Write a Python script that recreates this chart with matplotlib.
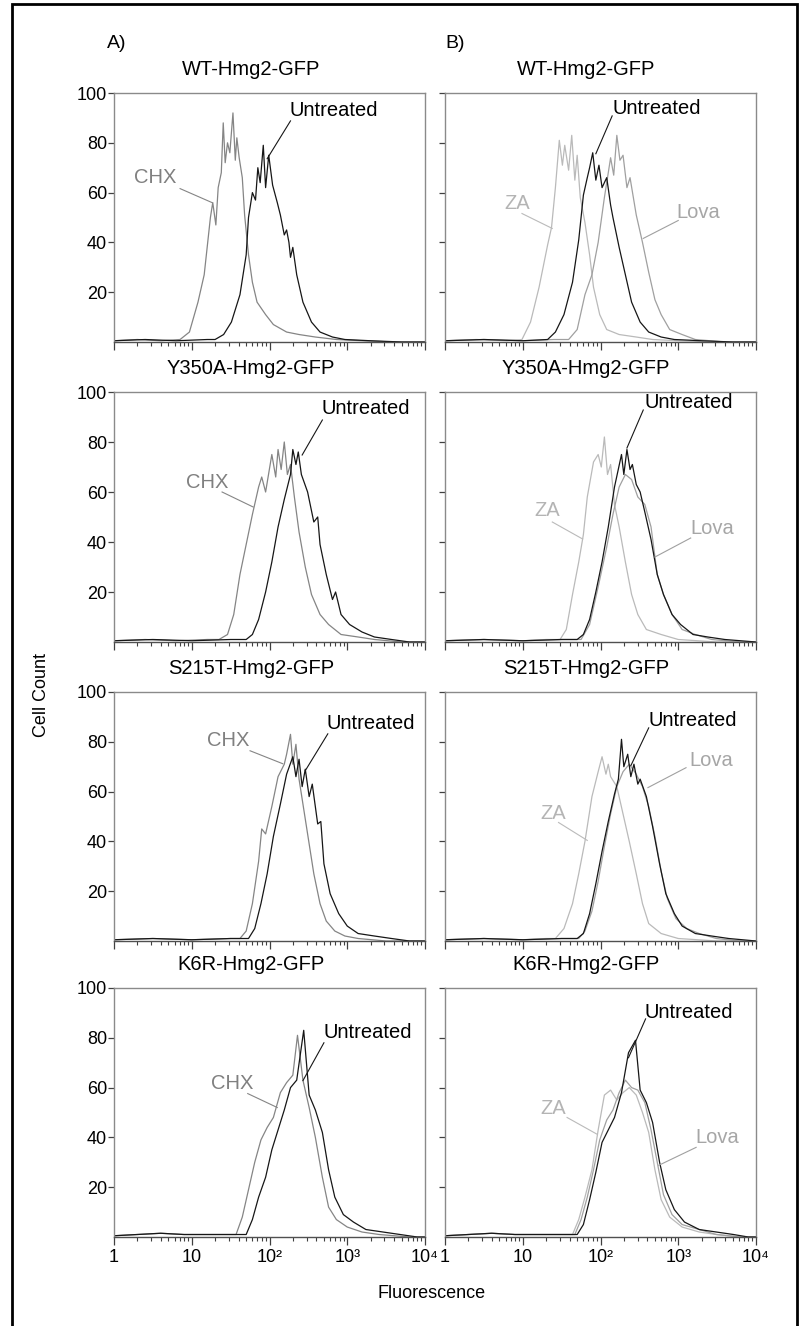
import matplotlib.pyplot as plt
import numpy as np
from matplotlib.patches import Rectangle
from matplotlib.ticker import FixedLocator, FixedFormatter, LogLocator, NullFormatter

plt.rcParams['font.family'] = ['Liberation Sans', 'DejaVu Sans']

# ---- data (x = log10 fluorescence, y = cell count) ----
titles = ["WT-Hmg2-GFP", "Y350A-Hmg2-GFP", "S215T-Hmg2-GFP", "K6R-Hmg2-GFP"]

# WT
wt_chx_log = [0.0, 0.3, 0.6, 0.85, 0.97, 1.08, 1.16, 1.24, 1.27, 1.31, 1.34, 1.38, 1.405, 1.43, 1.46, 1.49,
              1.53, 1.56, 1.58, 1.61, 1.65, 1.68, 1.73, 1.78, 1.84, 1.95, 2.05, 2.22, 2.38, 2.59, 2.86,
              3.2, 3.6, 4.0]
wt_chx = [0.5, 1, 0.5, 1, 4, 16, 27, 50, 56, 47, 62, 68, 88, 72, 80, 76, 92, 73, 82, 74, 66, 51, 35, 24, 16,
          11, 7, 4, 3, 2, 1, 0.5, 0, 0]
wt_untr_a_log = [0.0, 0.4, 0.8, 1.2, 1.30, 1.41, 1.51, 1.62, 1.70, 1.73, 1.78, 1.82, 1.85, 1.88, 1.92, 1.95,
                 1.99, 2.04, 2.10, 2.14, 2.19, 2.22, 2.25, 2.27, 2.30, 2.35, 2.43, 2.54, 2.65, 2.81, 2.97,
                 3.3, 3.7, 4.0]
wt_untr_a = [0.5, 1, 0.5, 1, 1, 3, 8, 19, 35, 50, 60, 57, 70, 64, 79, 62, 75, 63, 56, 51, 43, 45, 40, 34, 38,
             27, 16, 8, 4, 2, 1, 0.5, 0, 0]
wt_za_log = [0.0, 0.4, 0.8, 0.99, 1.10, 1.21, 1.32, 1.37, 1.42, 1.47, 1.51, 1.54, 1.59, 1.63, 1.67, 1.70,
             1.74, 1.80, 1.86, 1.91, 1.99, 2.08, 2.24, 2.46, 2.67, 3.0, 3.5, 4.0]
wt_za = [0.5, 1, 0.5, 1, 8, 22, 39, 46, 62, 81, 71, 79, 69, 83, 65, 75, 58, 48, 35, 22, 11, 5, 3, 2, 1, 0.5,
         0, 0]
wt_untr_b_log = [0.0, 0.5, 1.0, 1.32, 1.42, 1.53, 1.64, 1.72, 1.78, 1.83, 1.86, 1.90, 1.94, 1.98, 2.02, 2.08,
                 2.13, 2.16, 2.24, 2.32, 2.40, 2.51, 2.62, 2.78, 2.95, 3.3, 3.7, 4.0]
wt_untr_b = [0.5, 1, 0.5, 1, 4, 11, 24, 41, 59, 66, 70, 76, 65, 71, 62, 66, 55, 50, 38, 27, 16, 8, 4, 2, 1,
             0.5, 0, 0]
wt_lova_log = [0.0, 0.5, 1.0, 1.4, 1.59, 1.70, 1.80, 1.89, 1.97, 2.05, 2.13, 2.17, 2.21, 2.25, 2.29, 2.34,
               2.38, 2.46, 2.54, 2.62, 2.70, 2.78, 2.89, 3.05, 3.22, 3.6, 4.0]
wt_lova = [0.5, 1, 0.5, 1, 1, 5, 19, 27, 40, 58, 74, 67, 83, 73, 75, 62, 66, 51, 40, 28, 17, 11, 5, 3, 1, 0, 0]

# Y350A
y350_chx_log = [0.0, 0.4, 0.8, 1.2, 1.35, 1.46, 1.54, 1.62, 1.70, 1.78, 1.86, 1.90, 1.95, 2.03, 2.08, 2.11,
                2.15, 2.19, 2.23, 2.27, 2.32, 2.38, 2.46, 2.54, 2.65, 2.76, 2.92, 3.14, 3.35, 3.7, 4.0]
y350_chx = [0.5, 1, 0.5, 1, 1, 3, 11, 27, 39, 51, 62, 66, 60, 75, 66, 77, 69, 80, 67, 71, 58, 44, 30, 19, 11,
            7, 3, 2, 1, 0, 0]
y350_untr_a_log = [0.0, 0.5, 1.0, 1.5, 1.70, 1.78, 1.86, 1.95, 2.03, 2.11, 2.19, 2.27, 2.30, 2.34, 2.37, 2.41,
                   2.49, 2.57, 2.62, 2.65, 2.73, 2.81, 2.85, 2.92, 3.03, 3.19, 3.35, 3.57, 3.8, 4.0]
y350_untr_a = [0.5, 1, 0.5, 1, 1, 3, 9, 20, 32, 46, 57, 67, 77, 71, 76, 67, 60, 48, 50, 39, 27, 17, 20, 11, 7,
               4, 2, 1, 0, 0]
y350_za_log = [0.0, 0.5, 1.0, 1.3, 1.48, 1.56, 1.64, 1.72, 1.78, 1.83, 1.91, 1.97, 2.01, 2.05, 2.09, 2.13,
               2.18, 2.24, 2.32, 2.40, 2.48, 2.59, 2.78, 3.0, 3.5, 4.0]
y350_za = [0.5, 1, 0.5, 1, 1, 5, 19, 32, 43, 58, 72, 75, 70, 82, 67, 71, 55, 46, 32, 19, 11, 5, 3, 1, 0, 0]
y350_untr_b_log = [0.0, 0.5, 1.0, 1.5, 1.70, 1.78, 1.86, 1.94, 2.02, 2.10, 2.18, 2.27, 2.30, 2.34, 2.38, 2.41,
                   2.46, 2.51, 2.57, 2.65, 2.73, 2.81, 2.92, 3.03, 3.19, 3.38, 3.6, 4.0]
y350_untr_b = [0.5, 1, 0.5, 1, 1, 3, 9, 20, 32, 46, 62, 75, 67, 77, 69, 71, 63, 60, 52, 41, 27, 19, 11, 7, 3,
               2, 1, 0]
y350_lova_log = [0.0, 0.5, 1.0, 1.5, 1.75, 1.86, 1.97, 2.08, 2.16, 2.24, 2.32, 2.40, 2.48, 2.57, 2.65, 2.73,
                 2.81, 2.92, 3.05, 3.22, 3.43, 3.8, 4.0]
y350_lova = [0.5, 1, 0.5, 1, 1, 7, 22, 38, 51, 62, 67, 65, 58, 55, 46, 27, 19, 11, 5, 3, 1, 0, 0]

# S215T
s215_chx_log = [0.0, 0.5, 1.0, 1.5, 1.62, 1.70, 1.78, 1.86, 1.90, 1.95, 2.03, 2.11, 2.19, 2.22, 2.27, 2.30,
                2.34, 2.38, 2.41, 2.49, 2.57, 2.65, 2.73, 2.84, 2.97, 3.14, 3.5, 4.0]
s215_chx = [0.5, 1, 0.5, 1, 1, 4, 15, 32, 45, 43, 54, 66, 71, 75, 83, 71, 79, 65, 59, 43, 27, 15, 8, 4, 2, 1,
            0, 0]
s215_untr_a_log = [0.0, 0.5, 1.0, 1.5, 1.73, 1.81, 1.89, 1.97, 2.05, 2.14, 2.22, 2.30, 2.34, 2.38, 2.42, 2.46,
                   2.51, 2.55, 2.62, 2.66, 2.70, 2.78, 2.89, 3.0, 3.14, 3.35, 3.57, 3.8, 4.0]
s215_untr_a = [0.5, 1, 0.5, 1, 1, 5, 15, 27, 42, 55, 67, 74, 66, 73, 62, 69, 58, 63, 47, 48, 31, 19, 11, 6, 3,
               2, 1, 0, 0]
s215_za_log = [0.0, 0.5, 1.0, 1.3, 1.42, 1.53, 1.64, 1.72, 1.80, 1.89, 1.97, 2.02, 2.07, 2.10, 2.13, 2.21,
               2.29, 2.37, 2.46, 2.54, 2.62, 2.78, 3.0, 3.5, 4.0]
s215_za = [0.5, 1, 0.5, 1, 1, 5, 15, 27, 40, 58, 68, 74, 67, 71, 66, 62, 51, 40, 27, 15, 7, 3, 1, 0, 0]
s215_untr_b_log = [0.0, 0.5, 1.0, 1.5, 1.70, 1.78, 1.86, 1.94, 2.02, 2.10, 2.18, 2.23, 2.27, 2.30, 2.35, 2.39,
                   2.43, 2.48, 2.51, 2.59, 2.67, 2.76, 2.84, 2.95, 3.05, 3.22, 3.43, 3.65, 4.0]
s215_untr_b = [0.5, 1, 0.5, 1, 1, 3, 11, 23, 36, 48, 59, 65, 81, 70, 75, 66, 71, 63, 65, 58, 46, 31, 19, 11, 6,
               3, 2, 1, 0]
s215_lova_log = [0.0, 0.5, 1.0, 1.5, 1.72, 1.80, 1.89, 1.97, 2.05, 2.13, 2.21, 2.29, 2.37, 2.46, 2.54, 2.62,
                 2.70, 2.78, 2.86, 2.97, 3.11, 3.27, 3.49, 3.8, 4.0]
s215_lova = [0.5, 1, 0.5, 1, 1, 4, 12, 24, 38, 51, 62, 68, 71, 67, 62, 54, 42, 28, 17, 9, 5, 3, 1, 0, 0]

# K6R
k6r_chx_log = [0.0, 0.3, 0.6, 0.9, 1.2, 1.57, 1.65, 1.73, 1.81, 1.89, 1.97, 2.05, 2.14, 2.22, 2.30, 2.36,
               2.43, 2.51, 2.59, 2.68, 2.76, 2.86, 3.0, 3.19, 3.41, 3.8, 4.0]
k6r_chx = [0.5, 1, 1.5, 1, 1, 1, 8, 19, 30, 39, 44, 48, 58, 62, 65, 81, 63, 52, 40, 24, 12, 7, 4, 2, 1, 0, 0]
k6r_untr_a_log = [0.0, 0.3, 0.6, 0.9, 1.3, 1.70, 1.78, 1.86, 1.95, 2.03, 2.11, 2.19, 2.27, 2.35, 2.44, 2.51,
                  2.59, 2.68, 2.76, 2.84, 2.95, 3.08, 3.24, 3.46, 3.68, 3.9, 4.0]
k6r_untr_a = [0.5, 1, 1.5, 1, 1, 1, 7, 16, 24, 35, 43, 51, 60, 63, 83, 57, 51, 42, 27, 16, 9, 6, 3, 2, 1, 0, 0]
k6r_za_log = [0.0, 0.3, 0.6, 0.9, 1.3, 1.64, 1.72, 1.80, 1.89, 1.97, 2.05, 2.13, 2.21, 2.29, 2.37, 2.46,
              2.54, 2.62, 2.70, 2.78, 2.89, 3.05, 3.27, 3.49, 3.8, 4.0]
k6r_za = [0.5, 1, 1.5, 1, 1, 1, 7, 16, 27, 43, 57, 59, 55, 58, 60, 57, 50, 42, 27, 15, 8, 4, 2, 1, 0, 0]
k6r_untr_b_log = [0.0, 0.3, 0.6, 0.9, 1.3, 1.70, 1.78, 1.86, 1.94, 2.02, 2.10, 2.18, 2.27, 2.36, 2.45, 2.51,
                  2.59, 2.67, 2.76, 2.84, 2.95, 3.08, 3.27, 3.49, 3.71, 3.9, 4.0]
k6r_untr_b = [0.5, 1, 1.5, 1, 1, 1, 5, 15, 26, 38, 43, 48, 58, 74, 79, 59, 54, 46, 30, 19, 11, 6, 3, 2, 1, 0, 0]
k6r_lova_log = [0.0, 0.3, 0.6, 0.9, 1.3, 1.67, 1.75, 1.83, 1.91, 1.99, 2.08, 2.16, 2.24, 2.32, 2.40, 2.48,
                2.57, 2.65, 2.73, 2.81, 2.92, 3.05, 3.27, 3.49, 3.8, 4.0]
k6r_lova = [0.5, 1, 1.5, 1, 1, 1, 7, 16, 27, 39, 47, 51, 58, 63, 60, 59, 54, 43, 30, 17, 9, 5, 3, 1, 0, 0]

x_tick_vals = [1, 10, 100, 1000, 10000]
x_tick_labels = ["1", "10", "10\u00b2", "10\u00b3", "10\u2074"]
y_tick_vals = [20, 40, 60, 80, 100]

# ---- styles ----
COL = {"Untreated": "#161616", "CHX": "#858585", "ZA": "#bababa", "Lova": "#a0a0a0"}
TXT = {"Untreated": "#000000", "CHX": "#808080", "ZA": "#b4b4b4", "Lova": "#a6a6a6"}

left_curves = [
    [("CHX", wt_chx_log, wt_chx), ("Untreated", wt_untr_a_log, wt_untr_a)],
    [("CHX", y350_chx_log, y350_chx), ("Untreated", y350_untr_a_log, y350_untr_a)],
    [("CHX", s215_chx_log, s215_chx), ("Untreated", s215_untr_a_log, s215_untr_a)],
    [("CHX", k6r_chx_log, k6r_chx), ("Untreated", k6r_untr_a_log, k6r_untr_a)],
]
right_curves = [
    [("ZA", wt_za_log, wt_za), ("Lova", wt_lova_log, wt_lova), ("Untreated", wt_untr_b_log, wt_untr_b)],
    [("ZA", y350_za_log, y350_za), ("Lova", y350_lova_log, y350_lova), ("Untreated", y350_untr_b_log, y350_untr_b)],
    [("ZA", s215_za_log, s215_za), ("Lova", s215_lova_log, s215_lova), ("Untreated", s215_untr_b_log, s215_untr_b)],
    [("ZA", k6r_za_log, k6r_za), ("Lova", k6r_lova_log, k6r_lova), ("Untreated", k6r_untr_b_log, k6r_untr_b)],
]

# label placement: (label, text pos, leader start, leader end) in (log10 x, count)
left_notes = [
    [("CHX", (0.53, 66), (0.85, 61.6), (1.26, 56)), ("Untreated", (2.83, 93), (2.27, 88.8), (1.97, 73.6))],
    [("CHX", (1.20, 64), (1.39, 60), (1.79, 54)), ("Untreated", (3.24, 93.6), (2.68, 88.8), (2.42, 74.8))],
    [("CHX", (1.47, 80.4), (1.75, 76.4), (2.17, 71.2)), ("Untreated", (3.30, 87.2), (2.75, 83.2), (2.46, 68.4))],
    [("CHX", (1.52, 61.6), (1.72, 57.6), (2.10, 52)), ("Untreated", (3.26, 82), (2.70, 78), (2.43, 62.8))],
]
right_notes = [
    [("ZA", (0.93, 55.6), (0.99, 51.6), (1.38, 45.6)), ("Lova", (3.26, 52), (3.0, 48.8), (2.55, 41.6)),
     ("Untreated", (2.72, 93.6), (2.15, 90.8), (1.94, 75.6))],
    [("ZA", (1.31, 52.8), (1.38, 48), (1.77, 41.2)), ("Lova", (3.44, 45.6), (3.16, 41.6), (2.70, 34)),
     ("Untreated", (3.14, 96), (2.55, 92.8), (2.34, 77.6))],
    [("ZA", (1.39, 51.2), (1.46, 47.6), (1.83, 40.4)), ("Lova", (3.42, 72.4), (3.10, 69.6), (2.61, 61.6)),
     ("Untreated", (3.19, 88.4), (2.62, 85.6), (2.39, 70.4))],
    [("ZA", (1.39, 51.6), (1.57, 48), (1.96, 41.2)), ("Lova", (3.50, 40), (3.23, 36), (2.75, 28.8)),
     ("Untreated", (3.14, 90), (2.58, 87.6), (2.36, 72))],
]

W, H = 799, 1326
fig = plt.figure(figsize=(W / 100, H / 100), dpi=100)

row_px = [(93, 342), (392, 642), (692, 941), (988, 1237)]
col_px = [(114, 425), (445, 756)]


def make_axes(col, row):
    l, r = col_px[col]
    t, b = row_px[row]
    return fig.add_axes([l / W, 1 - b / H, (r - l) / W, (b - t) / H])


def style_axes(ax, show_ylabels, show_xlabels):
    ax.set_xscale('log')
    ax.set_xlim(1, 1e4)
    ax.set_ylim(0, 100)
    for s in ['top', 'right', 'left']:
        ax.spines[s].set_color('#8a8a8a')
        ax.spines[s].set_linewidth(1.0)
    ax.spines['bottom'].set_color('#505050')
    ax.spines['bottom'].set_linewidth(1.0)
    ax.xaxis.set_major_locator(FixedLocator(x_tick_vals))
    ax.xaxis.set_major_formatter(FixedFormatter(x_tick_labels))
    ax.xaxis.set_minor_locator(LogLocator(base=10, subs=np.arange(2, 10), numticks=20))
    ax.xaxis.set_minor_formatter(NullFormatter())
    ax.tick_params(axis='x', which='major', direction='out', length=6, width=0.9, color='#404040',
                   labelsize=13, pad=3, labelbottom=show_xlabels)
    ax.tick_params(axis='x', which='minor', direction='out', length=3, width=0.8, color='#404040')
    ax.set_yticks(y_tick_vals)
    ax.tick_params(axis='y', direction='out', length=4, width=0.9, color='#404040',
                   labelsize=13, pad=1, labelleft=show_ylabels)


def draw_panel(ax, curves, notes, title, title_x):
    for name, lx, cnt in curves:
        ax.plot(10 ** np.array(lx), cnt, color=COL[name], lw=0.9)
    for name, tpos, p0, p1 in notes:
        ax.text(10 ** tpos[0], tpos[1], name, color=TXT[name], fontsize=14.5, ha='center', va='center')
        ax.plot([10 ** p0[0], 10 ** p1[0]], [p0[1], p1[1]], color=COL[name], lw=0.8)
    ax.text(title_x, 1 + 24 / 250, title, transform=ax.transAxes, fontsize=14.5, ha='center', va='center')


for i in range(4):
    axl = make_axes(0, i)
    style_axes(axl, True, i == 3)
    draw_panel(axl, left_curves[i], left_notes[i], titles[i], 0.44)
    axr = make_axes(1, i)
    style_axes(axr, False, i == 3)
    draw_panel(axr, right_curves[i], right_notes[i], titles[i], 0.453)

fig.text(117 / W, 1 - 43 / H, "A)", fontsize=14, ha='center', va='center')
fig.text(455 / W, 1 - 43 / H, "B)", fontsize=14, ha='center', va='center')
fig.text(42 / W, 1 - 695 / H, "Cell Count", fontsize=13, rotation=90, ha='center', va='center')
fig.text(432 / W, 1 - 1294 / H, "Fluorescence", fontsize=13, ha='center', va='center')

fig.add_artist(Rectangle((12 / W, -0.01), (797 - 12) / W, 1.01 - 4 / H, transform=fig.transFigure,
                         fill=False, lw=2, ec='black'))

fig.savefig("out.png", dpi=100)
